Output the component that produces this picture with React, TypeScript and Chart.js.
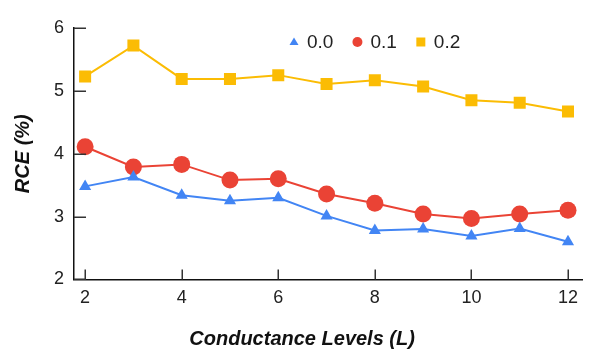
import React, { useEffect, useRef } from "react";
import { Chart, registerables } from "chart.js";

Chart.register(...registerables);

const levels = [2, 3, 4, 5, 6, 7, 8, 9, 10, 11, 12];
const seriesLabels = ["0.0", "0.1", "0.2"];
const rce00 = [3.48, 3.63, 3.34, 3.25, 3.3, 3.01, 2.78, 2.8, 2.69, 2.81, 2.6];
const rce01 = [4.11, 3.79, 3.83, 3.58, 3.6, 3.36, 3.21, 3.04, 2.97, 3.04, 3.1];
const rce02 = [5.23, 5.72, 5.19, 5.19, 5.25, 5.11, 5.17, 5.07, 4.85, 4.81, 4.67];
const xTicks = [2, 4, 6, 8, 10, 12];
const yTicks = [2, 3, 4, 5, 6];
const xTitle = "Conductance Levels (L)";
const yTitle = "RCE (%)";

const colors = ["#4285F4", "#EA4335", "#FBBC04"];
const FONT = "'Liberation Sans', Arial, sans-serif";

const insideTicks = {
  id: "insideTicks",
  afterDraw(chart: any) {
    const ctx = chart.ctx;
    const xs = chart.scales.x;
    const ys = chart.scales.y;
    const { left, bottom } = chart.chartArea;
    ctx.save();
    ctx.strokeStyle = "#333";
    ctx.lineWidth = 1.5;
    ctx.beginPath();
    xTicks.forEach((v) => {
      const px = Math.round(xs.getPixelForValue(v)) + 0.25;
      ctx.moveTo(px, bottom);
      ctx.lineTo(px, bottom - 10);
    });
    yTicks.forEach((v) => {
      const py = Math.round(ys.getPixelForValue(v)) + 0.25;
      ctx.moveTo(left, py);
      ctx.lineTo(left + 12, py);
    });
    ctx.stroke();
    ctx.restore();
  },
};

const xTitlePlugin = {
  id: "xTitlePlugin",
  afterDraw(chart: any) {
    const ctx = chart.ctx;
    const { left, right, bottom } = chart.chartArea;
    ctx.save();
    ctx.font = `italic bold 20px ${FONT}`;
    ctx.fillStyle = "#111";
    ctx.textAlign = "center";
    ctx.textBaseline = "middle";
    ctx.fillText(xTitle, left + (right - left) * 0.449, bottom + 60);
    ctx.restore();
  },
};

const customLegend = {
  id: "customLegend",
  afterDraw(chart: any) {
    const ctx = chart.ctx;
    const { left, top } = chart.chartArea;
    const y = top + 14;
    let x = left + 220;
    ctx.save();
    ctx.font = `19px ${FONT}`;
    ctx.textBaseline = "middle";
    chart.data.datasets.forEach((ds: any) => {
      ctx.fillStyle = ds.borderColor;
      ctx.beginPath();
      if (ds.pointStyle === "triangle") {
        ctx.moveTo(x, y - 4.5);
        ctx.lineTo(x + 4.5, y + 3);
        ctx.lineTo(x - 4.5, y + 3);
        ctx.closePath();
      } else if (ds.pointStyle === "circle") {
        ctx.arc(x, y, 5, 0, Math.PI * 2);
      } else {
        ctx.rect(x - 4.5, y - 4.5, 9, 9);
      }
      ctx.fill();
      ctx.fillStyle = "#222";
      ctx.fillText(ds.label, x + 13, y + 1);
      const w = ctx.measureText(ds.label).width;
      x += 13 + w + 24;
    });
    ctx.restore();
  },
};

export default function App() {
  const ref = useRef<HTMLCanvasElement | null>(null);

  useEffect(() => {
    if (!ref.current) return;
    const mk = (i: number, data: number[], style: string, r: number) => ({
      label: seriesLabels[i],
      data: levels.map((l, k) => ({ x: l, y: data[k] })),
      borderColor: colors[i],
      backgroundColor: colors[i],
      pointBackgroundColor: colors[i],
      pointBorderColor: colors[i],
      pointBorderWidth: 0,
      pointStyle: style,
      pointRadius: r,
      borderWidth: 2,
      tension: 0,
    });
    const chart = new Chart(ref.current, {
      type: "line",
      data: {
        datasets: [
          mk(0, rce00, "triangle", 7),
          mk(1, rce01, "circle", 8.5),
          mk(2, rce02, "rect", 8.5),
        ],
      },
      options: {
        animation: false,
        responsive: false,
        maintainAspectRatio: false,
        layout: { padding: { left: 11, right: 18, top: 28, bottom: 38 } },
        plugins: {
          legend: { display: false },
          tooltip: { enabled: false },
        },
        scales: {
          x: {
            type: "linear",
            min: 1.77,
            max: 12.29,
            afterBuildTicks: (s: any) => {
              s.ticks = xTicks.map((v) => ({ value: v }));
            },
            grid: { display: false, drawTicks: false },
            border: { display: true, color: "#111", width: 1.5 },
            ticks: {
              color: "#222",
              font: { family: FONT, size: 18 },
              padding: 8,
              maxRotation: 0,
            },
          },
          y: {
            min: 2,
            max: 6,
            afterBuildTicks: (s: any) => {
              s.ticks = yTicks.map((v) => ({ value: v }));
            },
            grid: { display: false, drawTicks: false },
            border: { display: true, color: "#111", width: 1.5 },
            ticks: {
              color: "#222",
              font: { family: FONT, size: 18 },
              padding: 10,
            },
            title: {
              display: true,
              text: yTitle,
              color: "#111",
              font: { family: FONT, size: 20, weight: "bold", style: "italic" },
              padding: { top: 0, bottom: 9 },
            },
          },
        },
      },
      plugins: [insideTicks, xTitlePlugin, customLegend],
    });
    return () => chart.destroy();
  }, []);

  return (
    <div style={{ position: "fixed", left: 0, top: 0, width: 600, height: 355, background: "#fff" }}>
      <canvas ref={ref} width={600} height={355} style={{ width: 600, height: 355 }} />
    </div>
  );
}
